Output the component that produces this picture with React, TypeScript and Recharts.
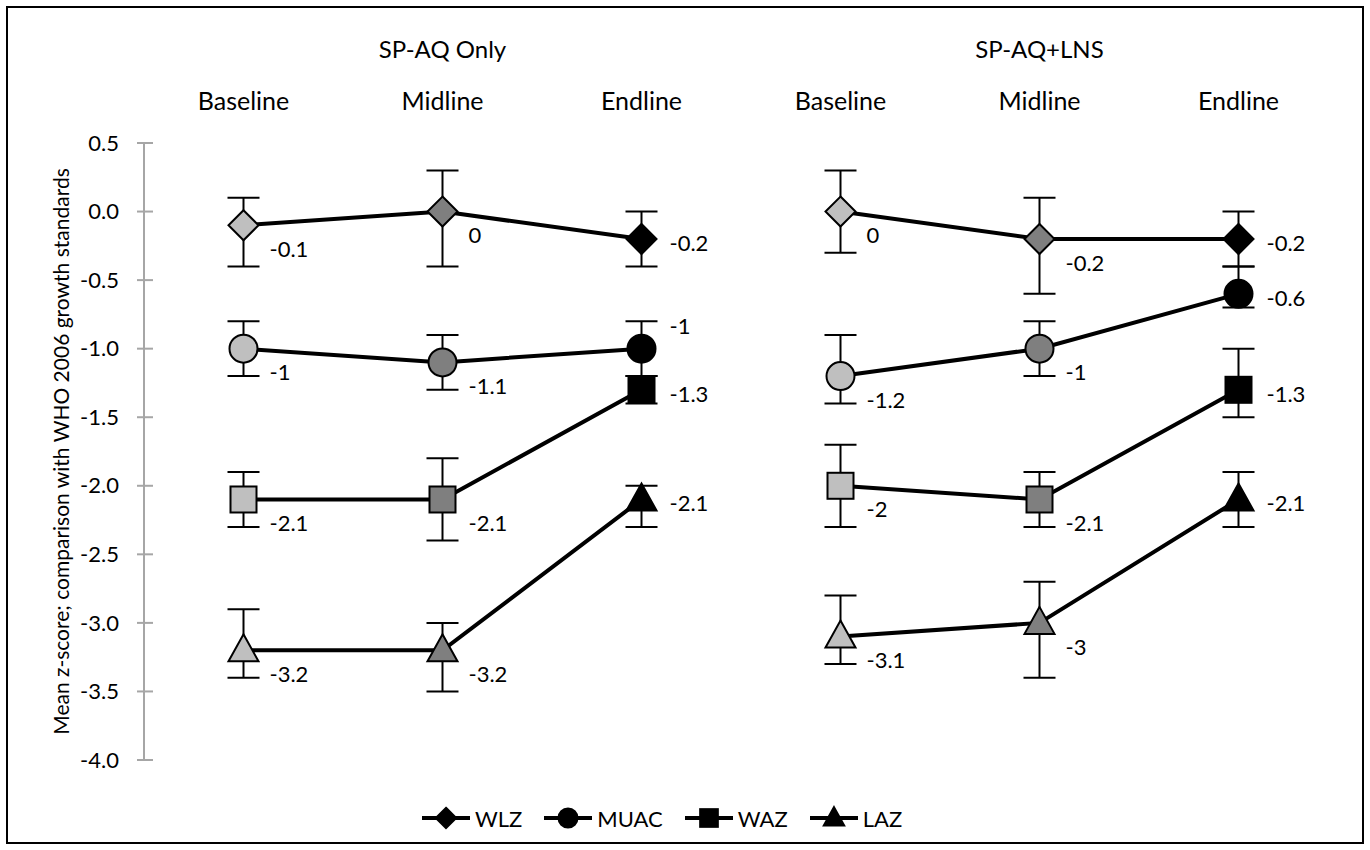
import React from "react";
import { ErrorBar, Line, LineChart, XAxis, YAxis, Label } from "recharts";

const categories = ["Baseline", "Midline", "Endline", "Baseline", "Midline", "Endline"];
const groupTitles = ["SP-AQ Only", "SP-AQ+LNS"];
const seriesNames = ["WLZ", "MUAC", "WAZ", "LAZ"];
const yTicks = [0.5, 0, -0.5, -1, -1.5, -2, -2.5, -3, -3.5, -4];

// means and 95% CI per time point (3 left group, 3 right group)
const wlzMean = [-0.1, 0, -0.2, 0, -0.2, -0.2];
const wlzLow = [-0.4, -0.4, -0.4, -0.3, -0.6, -0.4];
const wlzHigh = [0.1, 0.3, 0.0, 0.3, 0.1, 0.0];

const muacMean = [-1, -1.1, -1, -1.2, -1, -0.6];
const muacLow = [-1.2, -1.3, -1.2, -1.4, -1.2, -0.7];
const muacHigh = [-0.8, -0.9, -0.8, -0.9, -0.8, -0.4];

const wazMean = [-2.1, -2.1, -1.3, -2, -2.1, -1.3];
const wazLow = [-2.3, -2.4, -1.4, -2.3, -2.3, -1.5];
const wazHigh = [-1.9, -1.8, -1.2, -1.7, -1.9, -1.0];

const lazMean = [-3.2, -3.2, -2.1, -3.1, -3, -2.1];
const lazLow = [-3.4, -3.5, -2.3, -3.3, -3.4, -2.3];
const lazHigh = [-2.9, -3.0, -2.0, -2.8, -2.7, -1.9];

const seriesData: Record<string, { mean: number[]; low: number[]; high: number[] }> = {
  WLZ: { mean: wlzMean, low: wlzLow, high: wlzHigh },
  MUAC: { mean: muacMean, low: muacLow, high: muacHigh },
  WAZ: { mean: wazMean, low: wazLow, high: wazHigh },
  LAZ: { mean: lazMean, low: lazLow, high: lazHigh },
};

const FONT = "Lato, 'Noto Sans', sans-serif";
const fills = ["#bfbfbf", "#7f7f7f", "#000000"];

// one row per time point; each series split into two keys so the groups don't join
const chartData = categories.map((cat, i) => {
  const g = i < 3 ? 0 : 1;
  const row: Record<string, any> = { key: `${g}-${cat}`, cat };
  seriesNames.forEach((s) => {
    const d = seriesData[s];
    for (let k = 0; k < 2; k++) {
      if (k === g) {
        row[`${s}_${k}`] = d.mean[i];
        row[`${s}_${k}_err`] = [
          +(d.mean[i] - d.low[i]).toFixed(2),
          +(d.high[i] - d.mean[i]).toFixed(2),
        ];
      } else {
        row[`${s}_${k}`] = null;
      }
    }
  });
  return row;
});

const Marker = ({ shape, cx, cy, fill, size = 1 }: any) => {
  const st = { fill, stroke: "#000", strokeWidth: 2 };
  if (shape === "WLZ") {
    const h = 15 * size;
    return <polygon points={`${cx},${cy - h} ${cx + h},${cy} ${cx},${cy + h} ${cx - h},${cy}`} {...st} />;
  }
  if (shape === "MUAC") return <circle cx={cx} cy={cy} r={14 * size} {...st} />;
  if (shape === "WAZ") {
    const h = 13 * size;
    return <rect x={cx - h} y={cy - h} width={2 * h} height={2 * h} {...st} />;
  }
  return (
    <polygon
      points={`${cx},${cy - 16 * size} ${cx + 15 * size},${cy + 11 * size} ${cx - 15 * size},${cy + 11 * size}`}
      {...st}
    />
  );
};

const makeDot = (s: string) => (p: any) => {
  if (p.cy == null || p.value == null) return <g key={`${s}-${p.index}`} />;
  return (
    <Marker key={`${s}-${p.index}`} shape={s} cx={p.cx} cy={p.cy} fill={fills[p.index % 3]} />
  );
};

const makeLabel = (s: string, g: number) => (p: any) => {
  const { x, y, value, index } = p;
  if (value == null || x == null) return null;
  const pos = index % 3;
  let dx = 26;
  let dy = 24;
  if (pos === 2) {
    dx = 28;
    dy = 4;
    if (s === "MUAC" && g === 0) dy = -22;
  }
  return (
    <text
      key={`l-${s}-${index}`}
      x={x + dx}
      y={y + dy}
      dy="0.35em"
      fontSize={22}
      fontFamily={FONT}
      fill="#000"
    >
      {String(value)}
    </text>
  );
};

const TopTick = (p: any) => {
  const { x, y, index } = p;
  return (
    <g>
      <text x={x} y={y - 33} textAnchor="middle" fontSize={25} fontFamily={FONT} fill="#000">
        {categories[index]}
      </text>
      {index % 3 === 1 && (
        <text x={x} y={y - 85} textAnchor="middle" fontSize={24} fontFamily={FONT} fill="#000">
          {groupTitles[Math.floor(index / 3)]}
        </text>
      )}
    </g>
  );
};

const LeftTick = (p: any) => {
  const { x, y, payload } = p;
  return (
    <g>
      <line x1={x + 18} x2={x + 34} y1={y} y2={y} stroke="#a6a6a6" strokeWidth={2} />
      <text x={x} y={y} dy="0.35em" textAnchor="end" fontSize={22} fontFamily={FONT} fill="#000">
        {Number(payload.value).toFixed(1)}
      </text>
    </g>
  );
};

const LegendRow = () => (
  <div
    style={{
      position: "absolute",
      left: 422,
      top: 803,
      display: "flex",
      alignItems: "center",
      fontFamily: FONT,
      fontSize: 22,
    }}
  >
    {seriesNames.map((s) => (
      <div key={s} style={{ display: "flex", alignItems: "center", marginRight: 22 }}>
        <svg width={48} height={30}>
          <line x1={0} x2={48} y1={15} y2={15} stroke="#000" strokeWidth={4} />
          <Marker shape={s} cx={24} cy={15} fill="#000" size={0.68} />
        </svg>
        <span style={{ marginLeft: 5 }}>{s}</span>
      </div>
    ))}
  </div>
);

export default function App() {
  return (
    <div style={{ position: "absolute", left: 0, top: 0, width: 1370, height: 850, background: "#fff" }}>
      <div
        style={{
          position: "absolute",
          left: 6,
          top: 6,
          width: 1358,
          height: 838,
          border: "2px solid #000",
          boxSizing: "border-box",
        }}
      />
      <div style={{ position: "absolute", left: 0, top: 0 }}>
        <LineChart width={1370} height={850} data={chartData} margin={{ top: 20, right: 32, bottom: 90, left: 0 }}>
          <XAxis
            dataKey="key"
            orientation="top"
            scale="band"
            height={123}
            axisLine={false}
            tickLine={false}
            tickSize={0}
            tickMargin={0}
            interval={0}
            tick={<TopTick />}
          />
          <YAxis
            type="number"
            domain={[-4, 0.5]}
            ticks={yTicks}
            width={144}
            axisLine={{ stroke: "#a6a6a6", strokeWidth: 2 }}
            tickLine={false}
            tickSize={0}
            tickMargin={25}
            tick={<LeftTick />}
            interval={0}
          >
            <Label
              content={({ viewBox }: any) => {
                const cy = viewBox.y + viewBox.height / 2;
                return (
                  <text
                    x={62}
                    y={cy}
                    transform={`rotate(-90, 62, ${cy})`}
                    textAnchor="middle"
                    dy="0.35em"
                    fontSize={21}
                    fontFamily={FONT}
                    fill="#000"
                  >
                    Mean z-score; comparison with WHO 2006 growth standards
                  </text>
                );
              }}
            />
          </YAxis>
          {seriesNames.flatMap((s) =>
            [0, 1].map((g) => (
              <Line
                key={`${s}_${g}`}
                dataKey={`${s}_${g}`}
                stroke="#000"
                strokeWidth={4}
                dot={makeDot(s)}
                activeDot={false}
                label={makeLabel(s, g)}
                connectNulls={false}
                isAnimationActive={false}
                legendType="none"
              >
                <ErrorBar
                  dataKey={`${s}_${g}_err`}
                  direction="y"
                  width={16}
                  stroke="#000"
                  strokeWidth={2}
                  isAnimationActive={false}
                />
              </Line>
            ))
          )}
        </LineChart>
      </div>
      <LegendRow />
    </div>
  );
}
